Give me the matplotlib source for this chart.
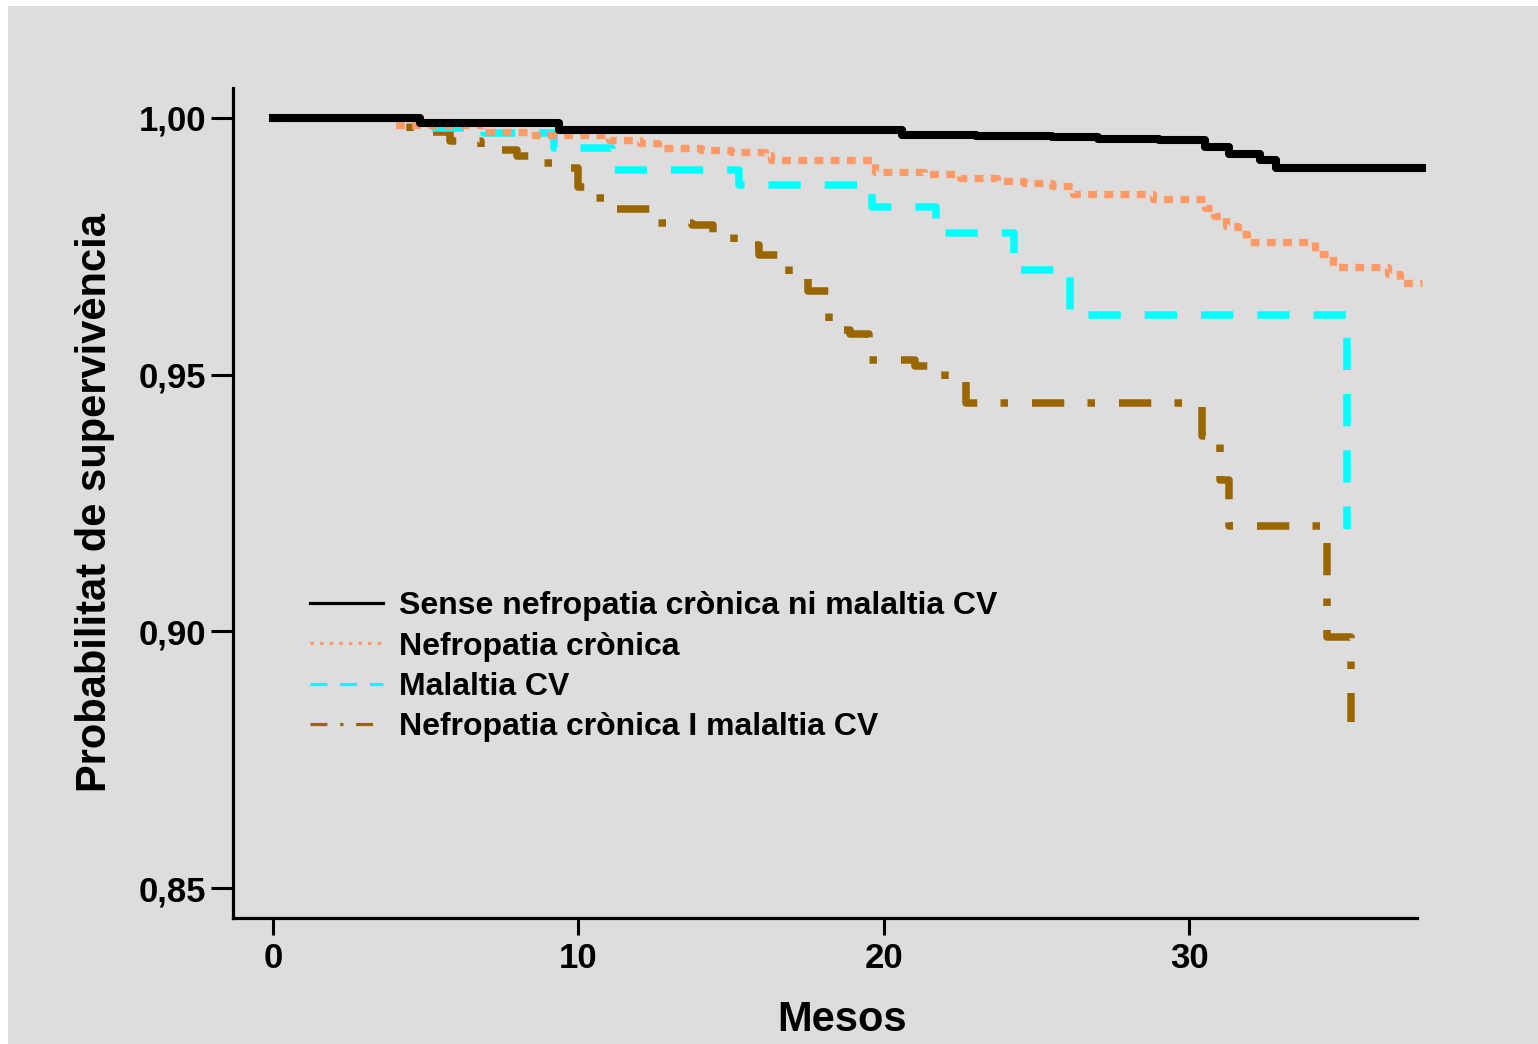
import matplotlib
matplotlib.use('Agg')
import matplotlib.pyplot as plt
from matplotlib.lines import Line2D
from matplotlib.patches import Rectangle

plt.rcParams['font.family'] = ['Liberation Sans', 'DejaVu Sans']
plt.rcParams['font.weight'] = 'bold'

# Kaplan-Meier steps (months, survival)
t_sense = [0, 4.8, 9.35, 12.0, 15.0, 18.0, 20.6, 23.0, 25.5, 27.0, 29.0, 30.5, 31.3, 32.3, 32.85, 37.6]
s_sense = [1.0, 0.9989, 0.9977, 0.99765, 0.9976, 0.99755, 0.9967, 0.9965, 0.9963, 0.9959, 0.9957, 0.9944, 0.9929, 0.9918, 0.9903, 0.9903]

t_nefro = [0, 4.0, 6.9, 8.4, 11.0, 12.0, 12.6, 14.0, 15.0, 16.1, 16.3, 19.7, 21.3, 22.5, 23.7, 24.6,
           25.5, 26.2, 28.8, 30.5, 30.8, 31.2, 31.6, 31.9, 34.1, 34.7, 36.5, 36.9, 37.6]
s_nefro = [1.0, 0.9986, 0.9973, 0.9967, 0.9957, 0.9950, 0.9941, 0.9937, 0.9933, 0.9928, 0.9918, 0.9895,
           0.9890, 0.9883, 0.9877, 0.9873, 0.9868, 0.9851, 0.9842, 0.9825, 0.9808, 0.9790, 0.9774, 0.9759,
           0.9735, 0.9710, 0.9695, 0.9679, 0.9679]

t_cv = [0, 4.8, 6.9, 9.2, 11.1, 15.25, 19.6, 21.7, 24.25, 26.1, 35.15]
s_cv = [1.0, 0.9980, 0.9970, 0.9941, 0.9899, 0.9870, 0.9826, 0.9775, 0.9703, 0.9616, 0.9199]

t_both = [0, 4.5, 5.8, 6.8, 8.0, 8.5, 9.3, 10.0, 10.4, 10.9, 12.4, 13.7, 14.4, 15.1, 15.9, 16.9,
          17.5, 18.2, 18.9, 19.5, 21.0, 22.0, 22.7, 30.4, 31.0, 31.3, 34.5, 35.3]
s_both = [1.0, 0.9972, 0.9955, 0.9938, 0.9925, 0.9912, 0.9903, 0.9866, 0.9844, 0.9823, 0.9795, 0.9792,
          0.9776, 0.9753, 0.9733, 0.9688, 0.9662, 0.9587, 0.9580, 0.9529, 0.9517, 0.9487, 0.9444, 0.9380,
          0.9295, 0.9206, 0.8989, 0.8824]

labels = ['Sense nefropatia crònica ni malaltia CV', 'Nefropatia crònica',
          'Malaltia CV', 'Nefropatia crònica I malaltia CV']
x_ticks = [0, 10, 20, 30]
y_ticks = [0.85, 0.90, 0.95, 1.00]
y_ticklabels = ['0,85', '0,90', '0,95', '1,00']

c_black = '#000000'
c_salmon = '#ff9966'
c_cyan = '#00ffff'
c_brown = '#996600'
bg = '#dddddd'

fig = plt.figure(figsize=(15.38, 10.44), dpi=100, facecolor='white')
fig.patches.append(Rectangle((8 / 1538, 0), 1, 1 - 6 / 1044, transform=fig.transFigure,
                             facecolor=bg, edgecolor='none', zorder=-10))
ax = fig.add_axes([233 / 1538, 1 - 918 / 1044, (1417 - 233) / 1538, (918 - 88) / 1044])
ax.set_facecolor(bg)

ax.step(t_both, s_both, where='post', color=c_brown, lw=5.4, dashes=(4.3, 3.1, 1, 3.2),
        dash_joinstyle='round')
ax.step(t_cv, s_cv, where='post', color=c_cyan, lw=5.4, dashes=(4.3, 3.2), dash_joinstyle='round')
ax.step(t_nefro, s_nefro, where='post', color=c_salmon, lw=5.3, dashes=(1.2, 1.0),
        dash_joinstyle='round', clip_on=False)
ax.step(t_sense, s_sense, where='post', color=c_black, lw=5.8, solid_joinstyle='round',
        clip_on=False)

ax.set_xlim(-1.31, 37.45)
ax.set_ylim(0.8442, 1.0058)
ax.set_xticks(x_ticks)
ax.set_xticklabels([str(v) for v in x_ticks])
ax.set_yticks(y_ticks)
ax.set_yticklabels(y_ticklabels)

for side in ['top', 'right']:
    ax.spines[side].set_visible(False)
for side in ['left', 'bottom']:
    ax.spines[side].set_linewidth(2.3)

ax.tick_params(axis='y', length=16, width=2.2, pad=3.5, labelsize=25)
ax.tick_params(axis='x', length=12, width=2.2, pad=5, labelsize=25)

ax.set_xlabel('Mesos', fontsize=30, fontweight='bold', labelpad=18)
ax.xaxis.label.set_x(0.514)
ax.set_ylabel('Probabilitat de supervivència', fontsize=30, fontweight='bold', labelpad=17)

handles = [
    Line2D([], [], color=c_black, lw=2.3),
    Line2D([], [], color=c_salmon, lw=2.3, dashes=(1.1, 1.9)),
    Line2D([], [], color=c_cyan, lw=2.3, dashes=(5.3, 4.0)),
    Line2D([], [], color=c_brown, lw=2.3, dashes=(5.3, 4.0, 1.0, 4.0)),
]
ax.legend(handles, labels, loc='upper left', bbox_to_anchor=(0.065, 0.3936), frameon=False,
          fontsize=23, handlelength=2.29, handletextpad=0.5, labelspacing=0.32,
          borderpad=0, borderaxespad=0)

fig.savefig('out.png', dpi=100, facecolor=fig.get_facecolor())
